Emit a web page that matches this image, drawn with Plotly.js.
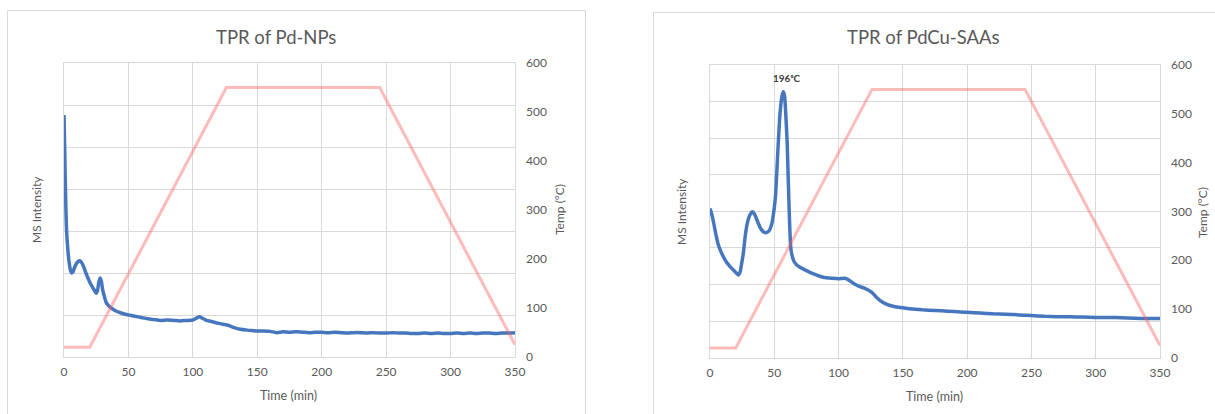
<!DOCTYPE html>
<html>
<head>
<meta charset="utf-8">
<script src="https://cdn.plot.ly/plotly-3.0.1.min.js"></script>
<style>
  html, body { margin: 0; padding: 0; background: #ffffff; }
  #chart { width: 1215px; height: 414px; }
</style>
</head>
<body>
<div id="chart"></div>
<script>
// ---- Temperature programme (same for both samples), time in min, temp in °C
const tempTime = [0, 20, 126, 245, 350];
const tempValue = [20, 20, 550, 550, 25];

// ---- MS intensity, Pd-NPs (arbitrary units)
const pdTime = [0, 0.5, 1, 1.5, 2, 3, 4, 5, 6, 7, 8, 10, 12, 13, 15, 17, 19, 21, 23, 25,
  26, 27, 28, 29, 30, 31.5, 33, 35, 37, 40, 43, 46, 50, 55, 60, 65, 70, 75, 80, 85,
  90, 95, 100, 103, 105, 107, 110, 115, 120, 125, 128, 132, 137, 142, 146, 150, 155, 160,
  165, 170, 175, 180, 185, 190, 195, 200, 205, 210, 215, 220, 225, 230, 235, 240, 245,
  250, 255, 260, 265, 270, 275, 280, 285, 290, 295, 300, 305, 310, 315, 320, 325, 330,
  335, 340, 345, 350];
const pdIntensity = [5.76, 5.0, 4.2, 3.5, 3.0, 2.55, 2.25, 2.07, 2.0, 2.03, 2.12, 2.24, 2.29, 2.28,
  2.17, 2.0, 1.85, 1.72, 1.62, 1.52, 1.58, 1.78, 1.88, 1.80, 1.60, 1.42, 1.28, 1.21, 1.16,
  1.10, 1.06, 1.03, 1.00, 0.97, 0.94, 0.91, 0.89, 0.87, 0.88, 0.87, 0.86, 0.87, 0.88, 0.93,
  0.96, 0.93, 0.88, 0.84, 0.80, 0.77, 0.75, 0.70, 0.66, 0.64, 0.63, 0.62, 0.62, 0.61,
  0.58, 0.60, 0.59, 0.60, 0.59, 0.58, 0.59, 0.59, 0.58, 0.59, 0.58, 0.57, 0.58, 0.58,
  0.57, 0.58, 0.57, 0.57, 0.58, 0.57, 0.57, 0.56, 0.56, 0.57, 0.56, 0.57, 0.56, 0.56,
  0.57, 0.56, 0.57, 0.56, 0.57, 0.57, 0.56, 0.57, 0.57, 0.58];

// ---- MS intensity, PdCu-SAAs (arbitrary units)
const saaTime = [0, 1.3, 2.5, 3.9, 5, 6.5, 8.5, 10.4, 13, 15.6, 19.5, 22, 23.5, 24.5, 25.9,
  27.5, 29, 31, 33, 35, 37.6, 40, 42, 44, 46, 48, 50, 51, 53, 54.5, 56, 57, 58, 59, 60,
  61, 62, 63, 65, 67, 70, 75, 80, 88, 95, 100, 105, 108, 112, 116, 120, 124, 127, 130,
  134, 138, 143, 148, 155, 165, 175, 185, 195, 200, 210, 220, 230, 240, 250, 260, 270,
  280, 290, 300, 310, 320, 330, 340, 350];
const saaIntensity = [4.08, 3.93, 3.75, 3.49, 3.30, 3.08, 2.90, 2.76, 2.60, 2.49, 2.35, 2.26,
  2.35, 2.55, 2.85, 3.35, 3.67, 3.90, 3.99, 3.90, 3.67, 3.50, 3.43, 3.42, 3.47, 3.65,
  4.10, 4.45, 5.80, 6.70, 7.15, 7.27, 7.15, 6.60, 5.90, 4.70, 3.60, 2.95, 2.66, 2.55,
  2.47, 2.38, 2.30, 2.20, 2.17, 2.16, 2.17, 2.12, 2.02, 1.95, 1.90, 1.83, 1.75, 1.63,
  1.52, 1.45, 1.40, 1.37, 1.34, 1.31, 1.29, 1.27, 1.25, 1.24, 1.22, 1.20, 1.19, 1.17,
  1.15, 1.13, 1.12, 1.12, 1.11, 1.10, 1.10, 1.09, 1.08, 1.07, 1.07];

const peakLabel = '196\u1d52C';
const titles = ['TPR of Pd-NPs', 'TPR of PdCu-SAAs'];

// ---- page geometry helpers (pixels -> paper fractions)
const W = 1215, H = 414;
const px = x => x / W;
const py = y => 1 - y / H;

const FONT = 'Lato, "Open Sans", "Liberation Sans", sans-serif';
const GREY = '#595959';
const GRID = '#d9d9d9';
const BLUE = '#4677be';
const PINK = 'rgba(255, 90, 90, 0.42)';

const traces = [
  { x: pdTime, y: pdIntensity, xaxis: 'x', yaxis: 'y', mode: 'lines',
    line: { color: BLUE, width: 3.5, shape: 'spline', smoothing: 0.6 }, hoverinfo: 'skip' },
  { x: tempTime, y: tempValue, xaxis: 'x', yaxis: 'y2', mode: 'lines',
    line: { color: PINK, width: 3 }, hoverinfo: 'skip' },
  { x: saaTime, y: saaIntensity, xaxis: 'x2', yaxis: 'y3', mode: 'lines',
    line: { color: BLUE, width: 3.5, shape: 'spline', smoothing: 0.6 }, hoverinfo: 'skip' },
  { x: tempTime, y: tempValue, xaxis: 'x2', yaxis: 'y4', mode: 'lines',
    line: { color: PINK, width: 3 }, hoverinfo: 'skip' }
];

const tickFont = { family: FONT, size: 12, color: GREY };

function timeAxis(domain, anchor) {
  return {
    domain, anchor, range: [0, 350], tick0: 0, dtick: 50,
    showgrid: true, gridcolor: GRID, gridwidth: 1, zeroline: false,
    showline: true, linecolor: GRID, linewidth: 1, mirror: true,
    ticks: '', tickfont: tickFont, ticklabelstandoff: 4, fixedrange: true
  };
}
function intensityAxis(domain, anchor, top) {
  return {
    domain, anchor, range: [0, top], tick0: 0, dtick: 1,
    showgrid: true, gridcolor: GRID, gridwidth: 1, zeroline: false,
    showline: true, linecolor: GRID, linewidth: 1, mirror: true,
    showticklabels: false, ticks: '', fixedrange: true
  };
}
function tempAxis(overlay, anchor) {
  return {
    overlaying: overlay, anchor, side: 'right', range: [0, 600], tick0: 0, dtick: 100,
    showgrid: false, zeroline: false, showline: false, ticks: '',
    tickfont: tickFont, ticklabelstandoff: 10, fixedrange: true
  };
}

const leftX = [px(64), px(515)];
const rightX = [px(710), px(1160)];
const leftY = [py(357), py(63)];
const rightY = [py(357.7), py(65)];

function label(text, x, y, size, angle, extra) {
  return Object.assign({
    text, xref: 'paper', yref: 'paper', x: px(x), y: py(y),
    xanchor: 'center', yanchor: 'middle', showarrow: false, textangle: angle || 0,
    font: { family: FONT, size, color: GREY }
  }, extra || {});
}

const peakIdx = saaIntensity.indexOf(Math.max(...saaIntensity));

const layout = {
  width: W, height: H,
  margin: { l: 0, r: 0, t: 0, b: 0 },
  paper_bgcolor: '#ffffff', plot_bgcolor: '#ffffff',
  showlegend: false,
  xaxis: timeAxis(leftX, 'y'),
  yaxis: intensityAxis(leftY, 'x', 7),
  yaxis2: tempAxis('y', 'x'),
  xaxis2: timeAxis(rightX, 'y3'),
  yaxis3: intensityAxis(rightY, 'x2', 8),
  yaxis4: tempAxis('y3', 'x2'),
  shapes: [
    { type: 'rect', xref: 'paper', yref: 'paper', x0: px(7.5), x1: px(585.5), y0: py(430), y1: py(10.5),
      line: { color: GRID, width: 1 }, fillcolor: 'rgba(0,0,0,0)', layer: 'below' },
    { type: 'rect', xref: 'paper', yref: 'paper', x0: px(653.5), x1: px(1230), y0: py(430), y1: py(12.5),
      line: { color: GRID, width: 1 }, fillcolor: 'rgba(0,0,0,0)', layer: 'below' }
  ],
  annotations: [
    label(titles[0], 276, 37, 18.5),
    label(titles[1], 923, 37, 18.5),
    label('Time (min)', 288, 395, 12.5),
    label('Time (min)', 934, 396, 12.5),
    label('MS Intensity', 36, 210, 12, -90),
    label('MS Intensity', 681, 212, 12, -90),
    label('Temp (°C)', 559, 210, 12, -90),
    label('Temp (°C)', 1203, 213, 12, -90),
    { text: '<b>' + peakLabel + '</b>', xref: 'x2', yref: 'y3',
      x: saaTime[peakIdx], y: saaIntensity[peakIdx], yshift: 14, xshift: 4,
      showarrow: false, xanchor: 'center', yanchor: 'middle',
      font: { family: FONT, size: 10, color: '#404040' } }
  ]
};

Plotly.newPlot('chart', traces, layout, { staticPlot: true, displayModeBar: false });
</script>
</body>
</html>
